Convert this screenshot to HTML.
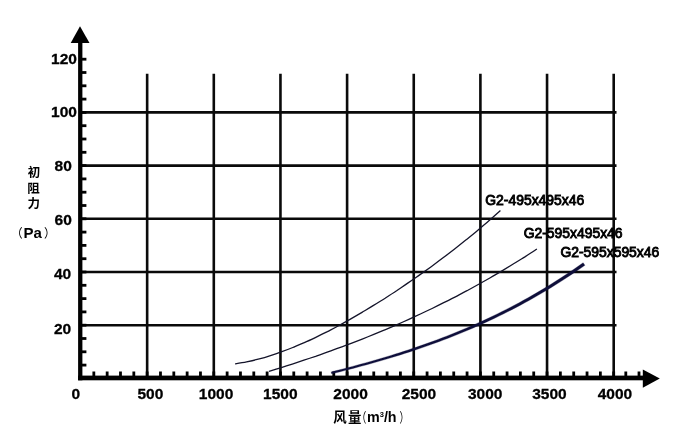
<!DOCTYPE html>
<html><head><meta charset="utf-8"><title>chart</title>
<style>html,body{margin:0;padding:0;background:#fff;}body{width:700px;height:429px;overflow:hidden;font-family:"Liberation Sans",sans-serif;}svg{display:block;filter:blur(0.35px);}</style>
</head><body>
<svg width="700" height="429" viewBox="0 0 700 429">
<rect width="700" height="429" fill="#ffffff"/>
<g stroke="#0a0a0a" stroke-width="2.6" fill="none">
<line x1="147.15" y1="73.8" x2="147.15" y2="378"/>
<line x1="213.80" y1="73.8" x2="213.80" y2="378"/>
<line x1="280.45" y1="73.8" x2="280.45" y2="378"/>
<line x1="347.10" y1="73.8" x2="347.10" y2="378"/>
<line x1="413.75" y1="73.8" x2="413.75" y2="378"/>
<line x1="480.40" y1="73.8" x2="480.40" y2="378"/>
<line x1="547.05" y1="73.8" x2="547.05" y2="378"/>
<line x1="613.70" y1="73.8" x2="613.70" y2="378"/>
<line x1="80" y1="325.20" x2="616.5" y2="325.20"/>
<line x1="80" y1="272.00" x2="616.5" y2="272.00"/>
<line x1="80" y1="218.80" x2="616.5" y2="218.80"/>
<line x1="80" y1="165.60" x2="616.5" y2="165.60"/>
<line x1="80" y1="112.40" x2="616.5" y2="112.40"/>
</g>
<g stroke="#000" stroke-width="2.8" fill="none">
<line x1="80" y1="365.10" x2="86.4" y2="365.10"/>
<line x1="80" y1="351.80" x2="86.4" y2="351.80"/>
<line x1="80" y1="338.50" x2="86.4" y2="338.50"/>
<line x1="80" y1="325.20" x2="86.4" y2="325.20"/>
<line x1="80" y1="311.90" x2="86.4" y2="311.90"/>
<line x1="80" y1="298.60" x2="86.4" y2="298.60"/>
<line x1="80" y1="285.30" x2="86.4" y2="285.30"/>
<line x1="80" y1="272.00" x2="86.4" y2="272.00"/>
<line x1="80" y1="258.70" x2="86.4" y2="258.70"/>
<line x1="80" y1="245.40" x2="86.4" y2="245.40"/>
<line x1="80" y1="232.10" x2="86.4" y2="232.10"/>
<line x1="80" y1="218.80" x2="86.4" y2="218.80"/>
<line x1="80" y1="205.50" x2="86.4" y2="205.50"/>
<line x1="80" y1="192.20" x2="86.4" y2="192.20"/>
<line x1="80" y1="178.90" x2="86.4" y2="178.90"/>
<line x1="80" y1="165.60" x2="86.4" y2="165.60"/>
<line x1="80" y1="152.30" x2="86.4" y2="152.30"/>
<line x1="80" y1="139.00" x2="86.4" y2="139.00"/>
<line x1="80" y1="125.70" x2="86.4" y2="125.70"/>
<line x1="80" y1="112.40" x2="86.4" y2="112.40"/>
<line x1="80" y1="99.10" x2="86.4" y2="99.10"/>
<line x1="80" y1="85.80" x2="86.4" y2="85.80"/>
<line x1="80" y1="72.50" x2="86.4" y2="72.50"/>
<line x1="80" y1="59.20" x2="86.4" y2="59.20"/>
<line x1="93.83" y1="371.5" x2="93.83" y2="377"/>
<line x1="107.16" y1="371.5" x2="107.16" y2="377"/>
<line x1="120.49" y1="371.5" x2="120.49" y2="377"/>
<line x1="133.82" y1="371.5" x2="133.82" y2="377"/>
<line x1="147.15" y1="371.5" x2="147.15" y2="377"/>
<line x1="160.48" y1="371.5" x2="160.48" y2="377"/>
<line x1="173.81" y1="371.5" x2="173.81" y2="377"/>
<line x1="187.14" y1="371.5" x2="187.14" y2="377"/>
<line x1="200.47" y1="371.5" x2="200.47" y2="377"/>
<line x1="213.80" y1="371.5" x2="213.80" y2="377"/>
<line x1="227.13" y1="371.5" x2="227.13" y2="377"/>
<line x1="240.46" y1="371.5" x2="240.46" y2="377"/>
<line x1="253.79" y1="371.5" x2="253.79" y2="377"/>
<line x1="267.12" y1="371.5" x2="267.12" y2="377"/>
<line x1="280.45" y1="371.5" x2="280.45" y2="377"/>
<line x1="293.78" y1="371.5" x2="293.78" y2="377"/>
<line x1="307.11" y1="371.5" x2="307.11" y2="377"/>
<line x1="320.44" y1="371.5" x2="320.44" y2="377"/>
<line x1="333.77" y1="371.5" x2="333.77" y2="377"/>
<line x1="347.10" y1="371.5" x2="347.10" y2="377"/>
<line x1="360.43" y1="371.5" x2="360.43" y2="377"/>
<line x1="373.76" y1="371.5" x2="373.76" y2="377"/>
<line x1="387.09" y1="371.5" x2="387.09" y2="377"/>
<line x1="400.42" y1="371.5" x2="400.42" y2="377"/>
<line x1="413.75" y1="371.5" x2="413.75" y2="377"/>
<line x1="427.08" y1="371.5" x2="427.08" y2="377"/>
<line x1="440.41" y1="371.5" x2="440.41" y2="377"/>
<line x1="453.74" y1="371.5" x2="453.74" y2="377"/>
<line x1="467.07" y1="371.5" x2="467.07" y2="377"/>
<line x1="480.40" y1="371.5" x2="480.40" y2="377"/>
<line x1="493.73" y1="371.5" x2="493.73" y2="377"/>
<line x1="507.06" y1="371.5" x2="507.06" y2="377"/>
<line x1="520.39" y1="371.5" x2="520.39" y2="377"/>
<line x1="533.72" y1="371.5" x2="533.72" y2="377"/>
<line x1="547.05" y1="371.5" x2="547.05" y2="377"/>
<line x1="560.38" y1="371.5" x2="560.38" y2="377"/>
<line x1="573.71" y1="371.5" x2="573.71" y2="377"/>
<line x1="587.04" y1="371.5" x2="587.04" y2="377"/>
<line x1="600.37" y1="371.5" x2="600.37" y2="377"/>
<line x1="613.70" y1="371.5" x2="613.70" y2="377"/>
<line x1="625.80" y1="371.5" x2="625.80" y2="377"/>
<line x1="639.00" y1="371.5" x2="639.00" y2="377"/>
</g>
<g fill="#000">
<rect x="78.1" y="40" width="4.3" height="340.3"/>
<rect x="78.1" y="375.6" width="566" height="4.7"/>
<polygon points="80.0,26.2 70.7,42.9 89.5,42.9"/>
<polygon points="659.8,378.5 642.8,369.4 642.8,387.8"/>
</g>
<path d="M235.1,363.9 C237.0,363.6 242.8,362.7 246.6,361.9 C250.5,361.1 254.3,360.2 258.2,359.2 C262.0,358.2 265.9,357.1 269.7,355.8 C273.5,354.6 277.4,353.3 281.2,351.9 C285.1,350.5 288.9,349.1 292.8,347.5 C296.6,345.9 300.5,344.3 304.3,342.6 C308.2,340.9 312.0,339.1 315.8,337.3 C319.7,335.4 323.5,333.5 327.4,331.6 C331.2,329.6 335.1,327.6 338.9,325.5 C342.8,323.4 346.6,321.3 350.4,319.1 C354.3,316.9 358.1,314.7 362.0,312.4 C365.8,310.1 369.7,307.8 373.5,305.4 C377.4,303.1 381.2,300.6 385.1,298.2 C388.9,295.7 392.7,293.2 396.6,290.7 C400.4,288.1 404.3,285.6 408.1,282.9 C412.0,280.3 415.8,277.6 419.7,274.9 C423.5,272.2 427.3,269.5 431.2,266.7 C435.0,263.9 438.9,261.0 442.7,258.1 C446.6,255.2 450.4,252.3 454.3,249.3 C458.1,246.3 462.0,243.2 465.8,240.1 C469.6,237.0 473.5,233.9 477.3,230.7 C481.2,227.4 485.0,224.2 488.9,220.8 C492.7,217.5 498.5,212.3 500.4,210.6" fill="none" stroke="#14142a" stroke-width="1.3"/>
<path d="M269.0,371.4 C270.9,370.8 276.8,369.0 280.6,367.8 C284.5,366.6 288.4,365.3 292.3,364.1 C296.2,362.8 300.1,361.5 303.9,360.2 C307.8,358.9 311.7,357.6 315.6,356.3 C319.5,354.9 323.4,353.6 327.2,352.2 C331.1,350.8 335.0,349.4 338.9,347.9 C342.8,346.5 346.7,345.1 350.5,343.6 C354.4,342.1 358.3,340.6 362.2,339.1 C366.1,337.5 369.9,336.0 373.8,334.4 C377.7,332.8 381.6,331.2 385.5,329.6 C389.4,327.9 393.2,326.3 397.1,324.6 C401.0,322.9 404.9,321.1 408.8,319.4 C412.7,317.6 416.5,315.8 420.4,314.0 C424.3,312.2 428.2,310.4 432.1,308.5 C436.0,306.6 439.8,304.7 443.7,302.7 C447.6,300.8 451.5,298.8 455.4,296.8 C459.2,294.8 463.1,292.7 467.0,290.7 C470.9,288.6 474.8,286.4 478.7,284.3 C482.5,282.1 486.4,279.9 490.3,277.7 C494.2,275.5 498.1,273.2 502.0,270.9 C505.8,268.6 509.7,266.2 513.6,263.8 C517.5,261.5 521.4,259.0 525.3,256.6 C529.1,254.1 535.0,250.3 536.9,249.0" fill="none" stroke="#14142a" stroke-width="1.3"/>
<path d="M331.64,373.84 L335.93,372.78 L340.21,371.71 L344.50,370.62 L348.79,369.52 L353.07,368.40 L357.36,367.27 L361.65,366.12 L365.94,364.96 L370.23,363.77 L374.51,362.57 L378.80,361.34 L383.09,360.10 L387.38,358.83 L391.67,357.54 L395.96,356.23 L400.25,354.90 L404.54,353.54 L408.83,352.15 L413.12,350.75 L417.41,349.31 L421.70,347.85 L425.99,346.36 L430.28,344.84 L434.57,343.29 L438.87,341.72 L443.16,340.11 L447.45,338.47 L451.74,336.80 L456.03,335.10 L460.33,333.36 L464.62,331.59 L468.91,329.78 L473.21,327.94 L477.50,326.07 L481.79,324.15 L486.09,322.20 L490.38,320.21 L494.68,318.18 L498.97,316.11 L503.27,314.00 L507.56,311.85 L511.86,309.66 L516.15,307.42 L520.45,305.15 L524.74,302.82 L529.04,300.46 L533.34,298.04 L537.63,295.59 L541.93,293.08 L546.22,290.53 L550.52,287.93 L554.82,285.28 L559.11,282.58 L563.41,279.83 L567.71,277.02 L572.01,274.17 L576.30,271.27 L580.60,268.31 L584.89,265.30 L583.11,262.76 L578.84,265.78 L574.57,268.74 L570.31,271.65 L566.04,274.50 L561.78,277.30 L557.51,280.06 L553.24,282.76 L548.98,285.41 L544.71,288.02 L540.45,290.57 L536.18,293.08 L531.91,295.54 L527.65,297.96 L523.38,300.33 L519.11,302.66 L514.84,304.95 L510.58,307.19 L506.31,309.39 L502.04,311.54 L497.77,313.66 L493.51,315.74 L489.24,317.78 L484.97,319.77 L480.70,321.73 L476.43,323.66 L472.16,325.54 L467.89,327.40 L463.62,329.21 L459.35,330.99 L455.08,332.74 L450.81,334.45 L446.54,336.14 L442.27,337.79 L438.00,339.41 L433.73,341.00 L429.46,342.56 L425.19,344.09 L420.92,345.59 L416.65,347.06 L412.37,348.51 L408.10,349.94 L403.83,351.33 L399.56,352.71 L395.28,354.05 L391.01,355.38 L386.74,356.68 L382.46,357.96 L378.19,359.22 L373.91,360.46 L369.64,361.68 L365.36,362.88 L361.09,364.07 L356.81,365.23 L352.54,366.38 L348.26,367.51 L343.99,368.63 L339.71,369.73 L335.44,370.82 L331.16,371.89Z" fill="#0e0e3a" stroke="#0e0e3a" stroke-width="0.3" stroke-linejoin="round"/>
<g opacity="0.999">
<g font-family="'Liberation Sans', sans-serif" font-weight="bold" font-size="15.5px" fill="#000" stroke="#000" stroke-width="0.3">
<text x="64.0" y="64.4" text-anchor="middle">120</text>
<text x="64.0" y="117.1" text-anchor="middle">100</text>
<text x="63.2" y="171.0" text-anchor="middle">80</text>
<text x="63.2" y="225.0" text-anchor="middle">60</text>
<text x="62.6" y="278.5" text-anchor="middle">40</text>
<text x="62.6" y="333.6" text-anchor="middle">20</text>
<text x="75.8" y="399.3" text-anchor="middle">0</text>
<text x="150.4" y="399.3" text-anchor="middle">500</text>
<text x="216.1" y="399.3" text-anchor="middle">1000</text>
<text x="280.3" y="399.3" text-anchor="middle">1500</text>
<text x="350.6" y="399.3" text-anchor="middle">2000</text>
<text x="418.9" y="399.3" text-anchor="middle">2500</text>
<text x="485.2" y="399.3" text-anchor="middle">3000</text>
<text x="549.5" y="399.3" text-anchor="middle">3500</text>
<text x="615" y="399.3" text-anchor="middle">4000</text>
</g>
<g font-family="'Liberation Sans', sans-serif" font-size="13.9px" fill="#000" stroke="#000" stroke-width="0.9">
<text x="485.3" y="204.6">G2-495x495x46</text>
<text x="523.7" y="237.6">G2-595x495x46</text>
<text x="560.4" y="257.4">G2-595x595x46</text>
</g>
<text x="23.5" y="237.9" font-family="'Liberation Sans', sans-serif" font-weight="bold" font-size="15px" fill="#000">Pa</text>
<text x="367" y="422.2" font-family="'Liberation Sans', sans-serif" font-weight="bold" font-size="14.3px" fill="#000">m<tspan font-size="7.5px" dy="-5.5">3</tspan><tspan dy="5.5">/h</tspan></text>
</g>
<g font-family="'Liberation Sans', 'Noto Sans CJK SC', sans-serif" font-weight="bold" fill="#000">
<text x="27.7" y="176.9" font-size="12.5px">初</text>
<text x="27.3" y="192.7" font-size="12.5px">阻</text>
<text x="27.6" y="207.9" font-size="12.5px">力</text>
<text x="333.2" y="422.2" font-size="13.4px">风</text>
<text x="348.0" y="422.3" font-size="13.4px">量</text>
</g>
<g font-family="'Liberation Sans', 'Noto Sans CJK SC', sans-serif" fill="#000">
<text transform="translate(10.88,237.57) scale(0.947,1)" x="0" y="0" font-size="12.29px">（</text>
<text transform="translate(43.88,237.57) scale(0.947,1)" x="0" y="0" font-size="12.29px">）</text>
<text transform="translate(356.84,422.47) scale(0.72,1)" x="0" y="0" font-size="13.33px">（</text>
<text transform="translate(399.57,422.47) scale(0.72,1)" x="0" y="0" font-size="13.33px">）</text>
</g>
</svg>
</body></html>
